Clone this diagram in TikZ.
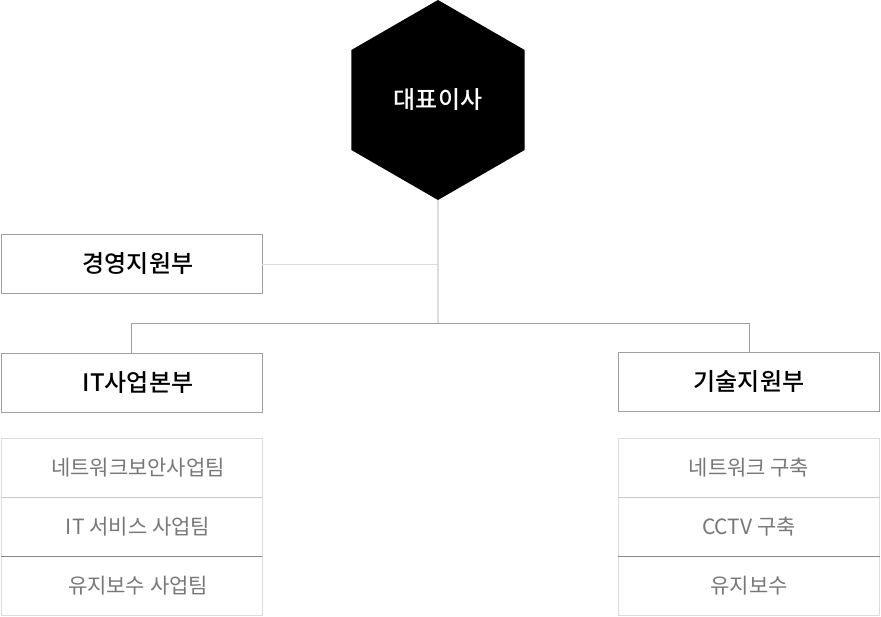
\documentclass[tikz,border=0pt]{standalone}
\usepackage{fontspec}
\setmainfont{Noto Sans CJK KR}[BoldFont={Noto Sans CJK KR Medium}]
\usetikzlibrary{shapes.geometric}
\definecolor{boxline}{HTML}{A0A0A0}
\definecolor{subline}{HTML}{DCDCDC}
\definecolor{midline}{HTML}{C8C8C8}
\definecolor{darkline}{HTML}{888888}
\definecolor{subtext}{HTML}{777777}
\begin{document}
\begin{tikzpicture}[x=1pt,y=-1pt,
    head/.style={regular polygon, regular polygon sides=6, regular polygon rotate=30, fill=black, inner sep=0pt, outer sep=0pt, minimum size=200pt, text=white, font=\bfseries\fontsize{24}{28}\selectfont},
    dept/.style={draw=boxline, line width=0.8pt, minimum width=261pt, minimum height=59pt, inner sep=0pt, font=\bfseries\fontsize{24}{28}\selectfont},
    team/.style={draw=subline, line width=0.8pt, minimum width=261pt, minimum height=59pt, inner sep=0pt, text=subtext, font=\fontsize{21}{25}\selectfont},
    lside/.style={execute at begin node={\hspace*{13pt}}},
    link/.style={boxline, line width=0.8pt}]
      \useasboundingbox (0,0) rectangle (881,616);
      \node[head] (a0) at (438,100) {대표이사};
      \node[dept, lside] (a1) at (131.5,264) {경영지원부};
      \node[dept, lside] (a2) at (131.5,382.5) {IT사업본부};
      \node[dept] (a3) at (749,381.5) {기술지원부};
      \node[team, lside] (b1) at (131.5,467.5) {네트워크보안사업팀};
      \node[team, lside] (b2) at (131.5,526.5) {IT 서비스 사업팀};
      \node[team, lside] (b3) at (131.5,585.5) {유지보수 사업팀};
      \node[team] (c1) at (749,467.5) {네트워크 구축};
      \node[team] (c2) at (749,526.5) {CCTV 구축};
      \node[team] (c3) at (749,585.5) {유지보수};
      \coordinate (j0) at (438,264); \coordinate (j1) at (438,323);
      \draw[link] (a0) to (j1);
      \draw[link, subline] (a1) to (j0);
      \draw[link] (a2.north) |- (j1);
      \draw[link] (a3.north) |- (j1);
      \draw[midline, line width=0.8pt] (b1.south west) to (b1.south east);
      \draw[midline, line width=0.8pt] (c1.south west) to (c1.south east);
      \draw[darkline, line width=0.8pt] (b2.south west) to (b2.south east);
      \draw[darkline, line width=0.8pt] (c2.south west) to (c2.south east);
    \end{tikzpicture}
\end{document}
